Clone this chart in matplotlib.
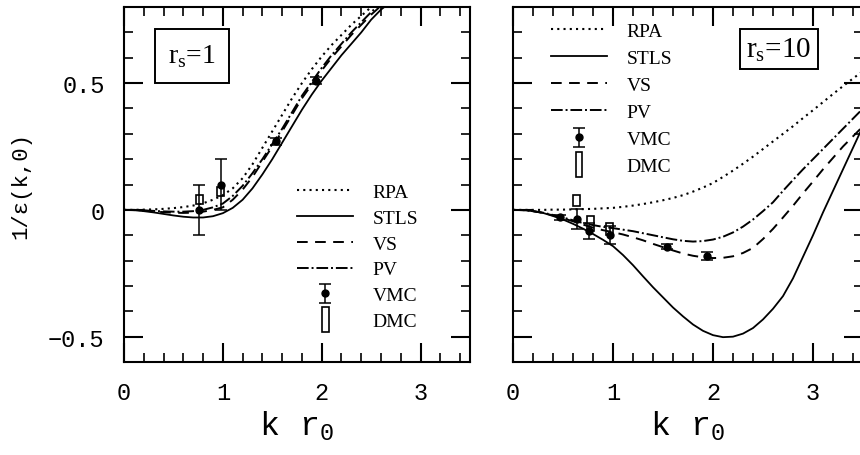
import matplotlib
matplotlib.use("Agg")
import matplotlib.pyplot as plt
import numpy as np
from matplotlib.legend_handler import HandlerBase
from matplotlib.patches import Rectangle
from matplotlib.ticker import MultipleLocator, FixedLocator, FuncFormatter

# ---- r_s = 1 ----
k1 = np.linspace(0.0, 3.0, 31)
rpa1 = [0.0, 0.0, 0.001, 0.002, 0.004, 0.007, 0.011, 0.017, 0.026, 0.04,
        0.058, 0.085, 0.125, 0.18, 0.245, 0.31, 0.375, 0.44, 0.50, 0.555,
        0.605, 0.65, 0.69, 0.73, 0.765, 0.80, 0.83, 0.865, 0.895, 0.92, 0.945]
stls1 = [0.0, -0.001, -0.005, -0.01, -0.016, -0.022, -0.027, -0.03, -0.03, -0.025,
         -0.013, 0.008, 0.04, 0.085, 0.14, 0.20, 0.265, 0.33, 0.395, 0.455,
         0.51, 0.56, 0.61, 0.655, 0.70, 0.75, 0.79, 0.82, 0.85, 0.88, 0.91]
vs1 = [0.0, -0.001, -0.003, -0.006, -0.009, -0.011, -0.012, -0.011, -0.007, 0.0,
       0.01, 0.04, 0.08, 0.13, 0.19, 0.25, 0.31, 0.375, 0.44, 0.495,
       0.55, 0.60, 0.645, 0.69, 0.73, 0.77, 0.805, 0.84, 0.87, 0.90, 0.93]
pv1 = [0.0, 0.0, -0.002, -0.004, -0.006, -0.007, -0.007, -0.005, 0.0, 0.01,
       0.025, 0.055, 0.095, 0.145, 0.20, 0.26, 0.32, 0.385, 0.45, 0.505,
       0.56, 0.61, 0.655, 0.70, 0.74, 0.78, 0.815, 0.85, 0.88, 0.91, 0.935]
vmc1_k = [0.76, 0.98, 1.54, 1.94]
vmc1_y = [0.0, 0.10, 0.27, 0.51]
vmc1_err = [0.10, 0.10, 0.015, 0.015]
dmc1_k = [0.76, 0.98]
dmc1_y = [0.04, 0.072]
dmc1_err = [0.018, 0.018]

# ---- r_s = 10 ----
k10 = np.linspace(0.0, 3.5, 36)
rpa10 = [0.0, 0.0, 0.0, 0.0, 0.001, 0.001, 0.002, 0.003, 0.004, 0.006,
         0.008, 0.012, 0.017, 0.023, 0.03, 0.038, 0.047, 0.058, 0.072, 0.088,
         0.106, 0.13, 0.155, 0.182, 0.21, 0.24, 0.27, 0.30, 0.33, 0.362,
         0.393, 0.425, 0.457, 0.488, 0.518, 0.548]
stls10 = [0.0, -0.001, -0.005, -0.012, -0.024, -0.038, -0.055, -0.074, -0.095, -0.118,
          -0.143, -0.178, -0.218, -0.262, -0.305, -0.345, -0.385, -0.42, -0.452, -0.477,
          -0.494, -0.502, -0.50, -0.488, -0.466, -0.432, -0.39, -0.34, -0.27, -0.185,
          -0.10, -0.01, 0.075, 0.16, 0.245, 0.33]
vs10 = [0.0, -0.001, -0.005, -0.012, -0.022, -0.033, -0.045, -0.058, -0.07, -0.08,
        -0.088, -0.097, -0.108, -0.12, -0.134, -0.147, -0.16, -0.172, -0.181, -0.187,
        -0.19, -0.189, -0.183, -0.17, -0.15, -0.115, -0.075, -0.03, 0.016, 0.065,
        0.112, 0.16, 0.205, 0.25, 0.29, 0.33]
pv10 = [0.0, -0.001, -0.005, -0.011, -0.02, -0.03, -0.041, -0.052, -0.06, -0.067,
        -0.072, -0.078, -0.084, -0.092, -0.10, -0.108, -0.116, -0.122, -0.125, -0.123,
        -0.117, -0.106, -0.089, -0.066, -0.038, -0.005, 0.03, 0.075, 0.118, 0.16,
        0.20, 0.24, 0.28, 0.32, 0.36, 0.40]
vmc10_k = [0.47, 0.64, 0.76, 0.97, 1.54, 1.94]
vmc10_y = [-0.03, -0.035, -0.083, -0.10, -0.146, -0.182]
vmc10_err = [0.01, 0.04, 0.03, 0.035, 0.01, 0.015]
dmc10_k = [0.64, 0.78, 0.97]
dmc10_y = [0.037, -0.055, -0.075]
dmc10_err = [0.02, 0.03, 0.025]

labels = ["RPA", "STLS", "VS", "PV", "VMC", "DMC"]
AXFONT = "Liberation Mono"
SERIF = "Liberation Serif"


class BoxHandler(HandlerBase):
    # tall open box used as the DMC legend key
    def create_artists(self, legend, orig_handle, xdescent, ydescent,
                       width, height, fontsize, trans):
        w, h = 5.0, 18.0
        cx = width / 2 - xdescent
        cy = height / 2 - ydescent
        r = Rectangle((cx - w / 2, cy - h / 2), w, h, fill=False,
                      edgecolor="k", linewidth=1.2, transform=trans)
        return [r]


def yfmt(v, pos):
    if abs(v) < 1e-9:
        return "0"
    return ("%.1f" % v).replace("-", "\u2212")


def panel(ax, k, rpa, stls, vs, pv, vk, vy, verr, dk, dy, derr):
    l1, = ax.plot(k, rpa, color="k", lw=1.5, ls=(0, (1, 2)))
    l2, = ax.plot(k, stls, color="k", lw=1.3, ls="-")
    l3, = ax.plot(k, vs, color="k", lw=1.4, ls=(0, (5.5, 3.8)))
    l4, = ax.plot(k, pv, color="k", lw=1.4, ls=(0, (6, 1.5, 1, 1.5)))
    eb = ax.errorbar(vk, vy, yerr=verr, fmt="o", color="k", ms=5,
                     capsize=4, elinewidth=1.1, capthick=1.1)
    bars = ax.bar(dk, [2 * e for e in derr], bottom=[y - e for y, e in zip(dy, derr)],
                  width=0.07, fill=False, edgecolor="k", linewidth=1.2)

    ax.set_xlim(0, 3.5)
    ax.set_ylim(-0.6, 0.8)
    ax.xaxis.set_major_locator(MultipleLocator(1))
    ax.xaxis.set_minor_locator(MultipleLocator(0.2))
    ax.yaxis.set_major_locator(FixedLocator([-0.5, 0, 0.5]))
    ax.yaxis.set_minor_locator(MultipleLocator(0.1))
    ax.yaxis.set_major_formatter(FuncFormatter(yfmt))
    ax.tick_params(which="both", direction="in", top=True, right=True)
    ax.tick_params(which="major", length=14, width=1.5, pad=14, labelsize=17)
    ax.tick_params(which="minor", length=6.5, width=1.2)
    for s in ax.spines.values():
        s.set_linewidth(1.5)
    for t in ax.get_xticklabels() + ax.get_yticklabels():
        t.set_fontfamily(AXFONT)
    ax.set_xlabel("k r$_\\mathregular{0}$", fontsize=24, family=AXFONT, labelpad=3)
    return [l1, l2, l3, l4, eb, bars]


fig = plt.figure(figsize=(8.6, 4.56), dpi=100)
axL = fig.add_axes([0.1442, 0.2039, 0.4023, 0.7785])
axR = fig.add_axes([0.5965, 0.2039, 0.407, 0.7785])

hL = panel(axL, k1, rpa1, stls1, vs1, pv1, vmc1_k, vmc1_y, vmc1_err,
           dmc1_k, dmc1_y, dmc1_err)
hR = panel(axR, k10, rpa10, stls10, vs10, pv10, vmc10_k, vmc10_y, vmc10_err,
           dmc10_k, dmc10_y, dmc10_err)
axR.tick_params(labelleft=False)

axL.set_ylabel("1/\u03b5(k,0)", fontsize=16, family=AXFONT, labelpad=12)

for ax, h, anchor, sp in [(axL, hL, (0.5, 0.503), 0.42), (axR, hR, (0.108, 0.958), 0.49)]:
    ax.legend(h, labels, loc="upper left", bbox_to_anchor=anchor, frameon=False,
              prop={"family": SERIF, "size": 14}, handlelength=2.9,
              handletextpad=1.0, labelspacing=sp, borderpad=0, borderaxespad=0,
              numpoints=1, handler_map={type(h[5]): BoxHandler()})

axL.text(0.197, 0.862, "r$_\\mathregular{s}$=1", transform=axL.transAxes,
         ha="center", va="center", fontsize=20, family=SERIF,
         bbox=dict(boxstyle="square,pad=0.48", fc="white", ec="k", lw=1.4))
axR.text(0.76, 0.882, "r$_\\mathregular{s}$=10", transform=axR.transAxes,
         ha="center", va="center", fontsize=21, family=SERIF,
         bbox=dict(boxstyle="square,pad=0.22", fc="white", ec="k", lw=1.4))

fig.savefig("out.png", dpi=100)
